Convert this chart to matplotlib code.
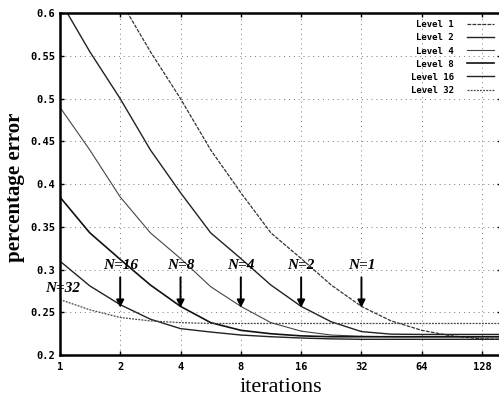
import matplotlib
matplotlib.use("Agg")
import matplotlib.pyplot as plt
import numpy as np

# iterations sampled every half octave
iters = [1, 1.41, 2, 2.83, 4, 5.66, 8, 11.3, 16, 22.6, 32, 45, 64, 90, 128, 160]

level_1 = [0.73, 0.67, 0.615, 0.555, 0.50, 0.44, 0.39, 0.343, 0.313, 0.282, 0.257,
           0.240, 0.229, 0.2225, 0.219, 0.2185]
level_2 = [0.615, 0.555, 0.50, 0.44, 0.39, 0.343, 0.313, 0.282, 0.257, 0.239, 0.2275,
           0.2245, 0.2242, 0.2242, 0.2242, 0.2242]
level_4 = [0.49, 0.44, 0.385, 0.343, 0.313, 0.28, 0.257, 0.238, 0.228, 0.2235, 0.222,
           0.2215, 0.2215, 0.2215, 0.2215, 0.2215]
level_8 = [0.385, 0.343, 0.312, 0.282, 0.257, 0.238, 0.229, 0.225, 0.2225, 0.2215,
           0.2215, 0.2215, 0.2215, 0.2215, 0.2215, 0.2215]
level_16 = [0.31, 0.281, 0.259, 0.242, 0.231, 0.227, 0.2235, 0.2215, 0.220, 0.219,
            0.2185, 0.2185, 0.2185, 0.2185, 0.2185, 0.2185]
level_32 = [0.265, 0.253, 0.244, 0.240, 0.238, 0.237, 0.237, 0.237, 0.237, 0.237,
            0.237, 0.237, 0.237, 0.237, 0.237, 0.237]

names = ['Level 1', 'Level 2', 'Level 4', 'Level 8', 'Level 16', 'Level 32']
series = [level_1, level_2, level_4, level_8, level_16, level_32]
styles = [(0, (3, 1)), '-', '-', '-', '-', (0, (1.5, 1))]
widths = [0.9, 1.0, 0.8, 1.2, 1.0, 0.9]
colors = ['#333333', '#222222', '#444444', '#111111', '#222222', '#444444']

# arrow annotations: label, x position
notes = ['N=16', 'N=8', 'N=4', 'N=2', 'N=1']
note_x = [2, 4, 8, 16, 32]

xticks = [1, 2, 4, 8, 16, 32, 64, 128]
yticks = [0.2, 0.25, 0.3, 0.35, 0.4, 0.45, 0.5, 0.55, 0.6]
ytick_labels = ['0.2', '0.25', '0.3', '0.35', '0.4', '0.45', '0.5', '0.55', '0.6']

fig = plt.figure(figsize=(4.99, 3.99), dpi=100)
ax = fig.add_axes([0.12, 0.11, 0.885, 0.857])

for i in range(len(series)):
    ax.plot(iters, series[i], color=colors[i], linestyle=styles[i], lw=widths[i], label=names[i])

ax.set_xscale('log', base=2)
ax.set_xlim(1, 160)
ax.set_ylim(0.2, 0.6)
ax.set_xticks(xticks)
ax.set_xticklabels([str(t) for t in xticks])
ax.set_yticks(yticks)
ax.set_yticklabels(ytick_labels)
ax.minorticks_off()
ax.tick_params(direction='in', top=True, right=True, length=3, width=1)
ax.tick_params(axis='y', pad=3.5)
ax.tick_params(axis='x', pad=5)
for lab in ax.get_xticklabels() + ax.get_yticklabels():
    lab.set_family('DejaVu Sans Mono')
    lab.set_fontweight('bold')
    lab.set_fontsize(7.5)
ax.grid(True, color='#777777', linestyle=(0, (1, 4)), lw=0.7)
for s in ax.spines.values():
    s.set_linewidth(1.8)

ax.set_xlabel('iterations', family='Liberation Serif', fontsize=16, labelpad=4)
ax.set_ylabel('percentage error', family='Liberation Serif', fontsize=15,
              fontweight='bold')
ax.yaxis.set_label_coords(-0.078, 0.49)

for k in range(len(notes)):
    x = note_x[k]
    ax.annotate('', xy=(x, 0.2555), xytext=(x, 0.291),
                arrowprops=dict(arrowstyle='-|>', color='black', lw=1.4,
                                mutation_scale=11, shrinkA=0, shrinkB=0))
    ax.text(x, 0.2975, notes[k], ha='center', va='bottom', family='Liberation Serif',
            fontsize=11, fontweight='bold', style='italic')
ax.text(1.03, 0.2705, 'N=32', ha='center', va='bottom', family='Liberation Serif',
        fontsize=11, fontweight='bold', style='italic', clip_on=False)

leg = ax.legend(loc='upper right', markerfirst=False, frameon=False, handlelength=3,
                handletextpad=1.5, labelspacing=0.45, borderaxespad=0.4,
                prop={'family': 'DejaVu Sans Mono', 'weight': 'bold', 'size': 6.5})

fig.savefig('out.png', dpi=100)
